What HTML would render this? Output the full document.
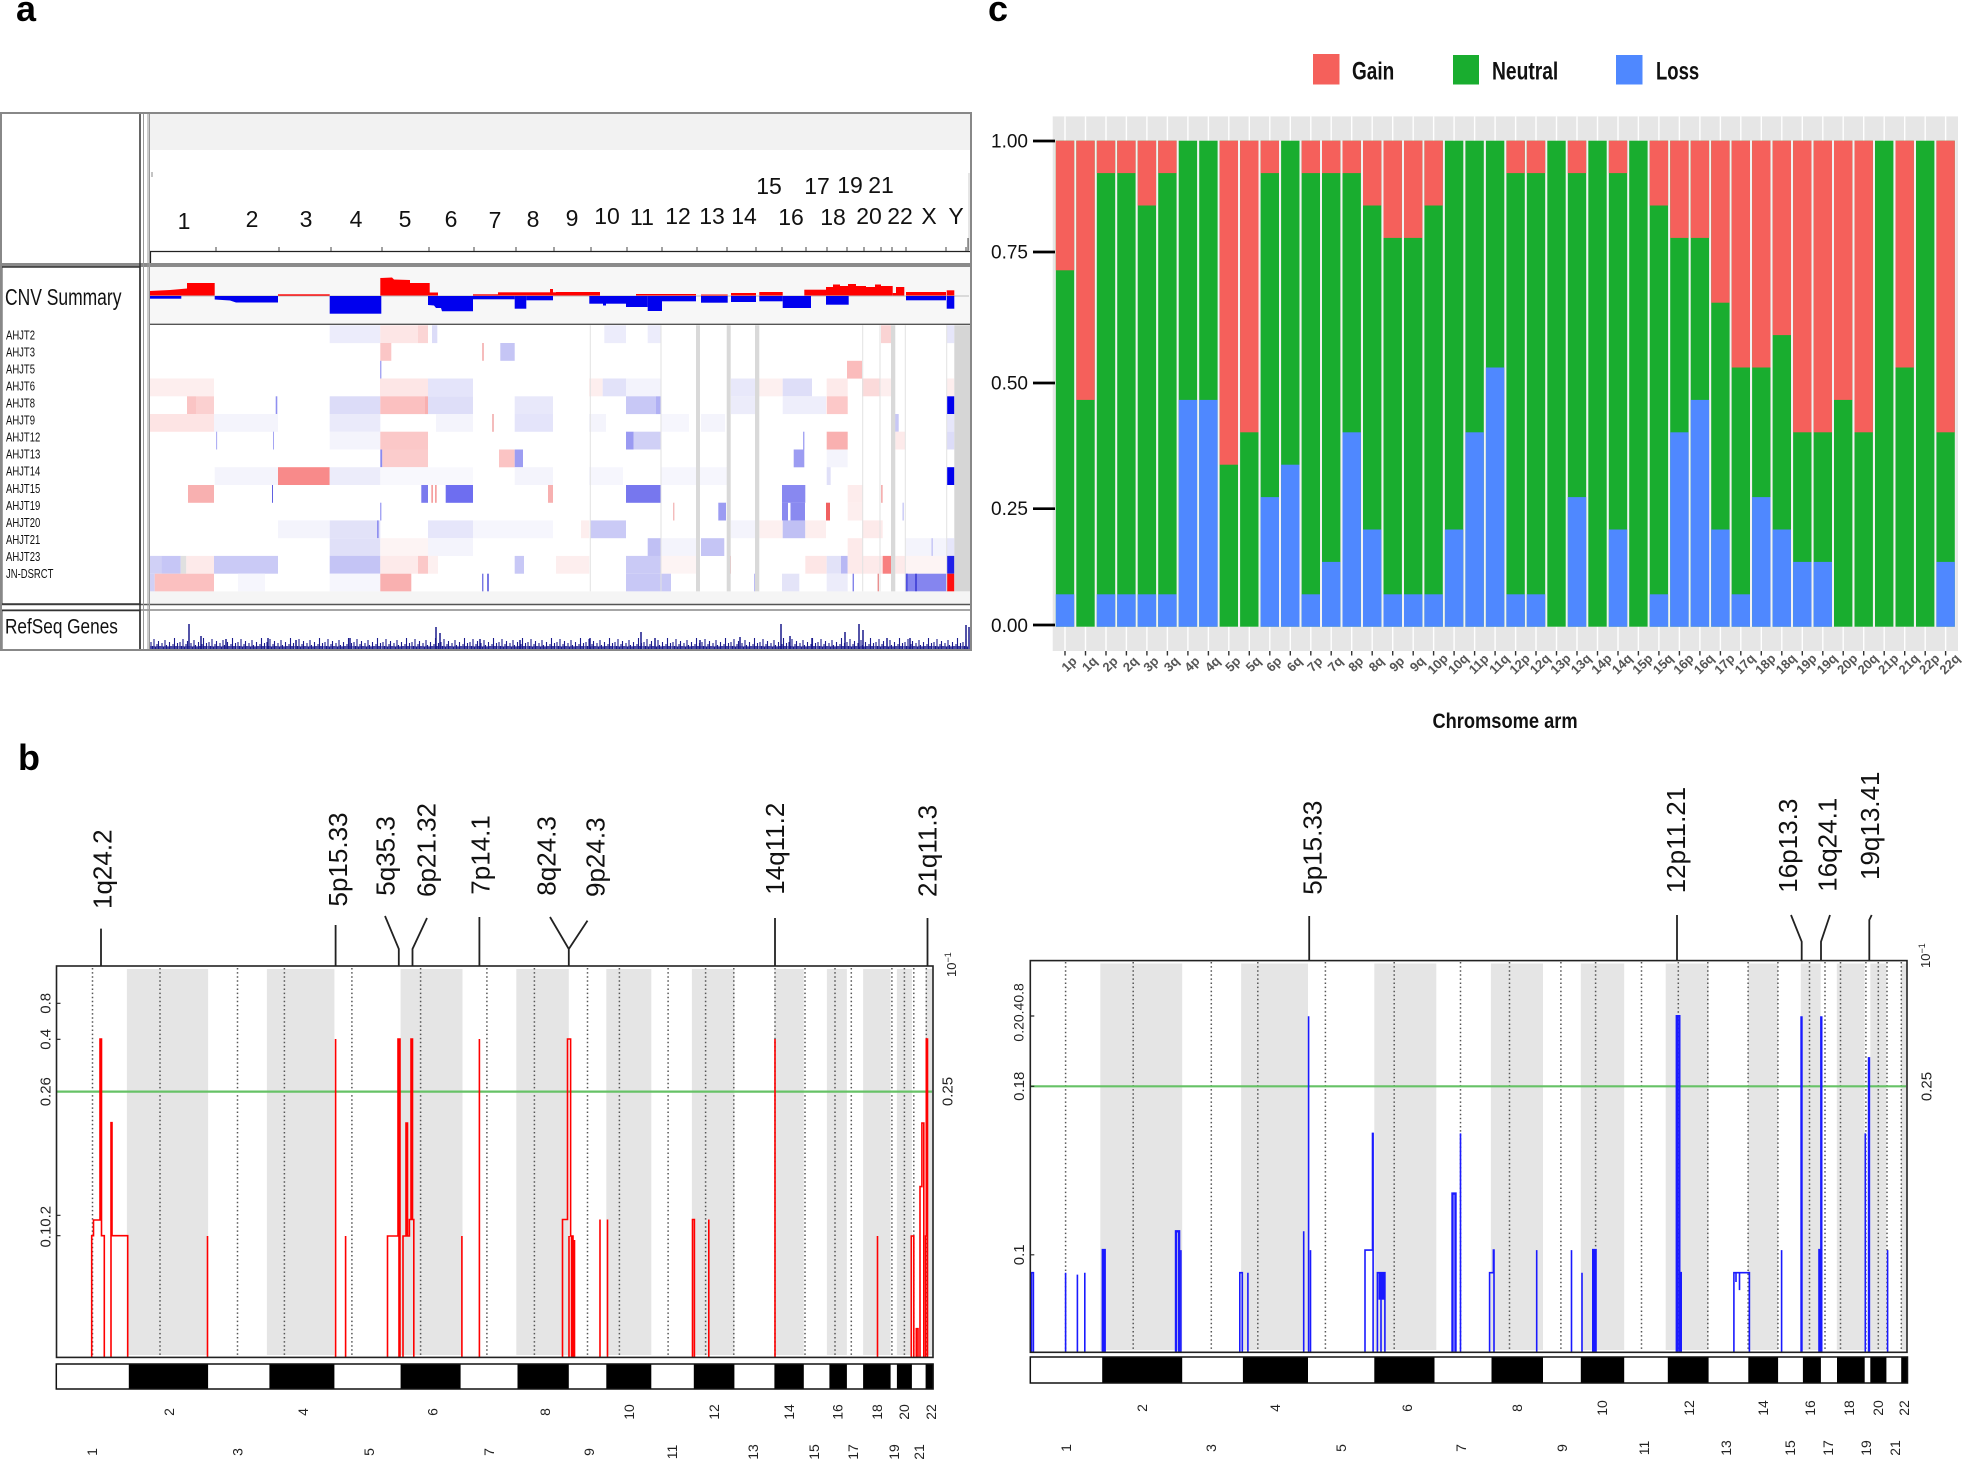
<!DOCTYPE html>
<html><head><meta charset="utf-8">
<style>
html,body{margin:0;padding:0;background:#fff;}
svg{display:block;font-family:"Liberation Sans",Arial,sans-serif;}
.g{fill:#F5605B}.n{fill:#19AD2F}.l{fill:#4F88FF}
</style></head><body>
<svg width="1962" height="1468" viewBox="0 0 1962 1468" xmlns="http://www.w3.org/2000/svg">
<defs>
<pattern id="rs" x="150" y="628" width="29" height="22" patternUnits="userSpaceOnUse">
<path d="M1 22V14M2.5 22V18M4 22V11M5.5 22V19M7 22V16M8.5 22V13M10 22V18M12 22V15M13.5 22V19M15 22V12M16.5 22V17M18 22V19M19.5 22V14M21 22V18M23 22V16M24.5 22V10M26 22V18M27.5 22V15" stroke="#1a1a8c" stroke-width="1.1"/>
</pattern>
</defs>
<rect width="1962" height="1468" fill="#fff"/>

<!-- Panel labels -->
<text x="16" y="21" font-size="36" font-weight="bold" fill="#000">a</text>
<text x="18" y="770" font-size="36" font-weight="bold" fill="#000">b</text>
<text x="988" y="21" font-size="36" font-weight="bold" fill="#000">c</text>

<!-- ================= PANEL A ================= -->
<rect x="1" y="113" width="970" height="537" fill="#fff"/>
<rect x="150" y="114" width="820" height="36" fill="#f2f2f2"/>
<path d="M152 172V177" stroke="#888" stroke-width="1"/>
<path d="M969 173V250" stroke="#ccc" stroke-width="1"/>
<g font-size="23" text-anchor="middle" fill="#111">
<text x="184" y="229">1</text><text x="252" y="227">2</text><text x="306" y="227">3</text><text x="356" y="227">4</text>
<text x="405" y="227">5</text><text x="451" y="227">6</text><text x="495" y="228">7</text><text x="533" y="227">8</text>
<text x="572" y="226">9</text><text x="607" y="224">10</text><text x="642" y="225">11</text><text x="678" y="224">12</text>
<text x="712" y="224">13</text><text x="744" y="224">14</text><text x="769" y="194">15</text><text x="791" y="225">16</text>
<text x="817" y="194">17</text><text x="833" y="225">18</text><text x="850" y="193">19</text><text x="869" y="224">20</text>
<text x="881" y="193">21</text><text x="900" y="224">22</text><text x="929" y="224">X</text><text x="956" y="224">Y</text>
</g>
<path d="M150 251.5H970" stroke="#222" stroke-width="1.2"/>
<path d="M150.5 251V263" stroke="#222" stroke-width="1.2"/>
<path d="M216 247V251M279 247V251M331 247V251M382 247V251M429 247V251M474 247V251M516 247V251M554 247V251M591 247V251M627 247V251M662 247V251M697 247V251M727 247V251M756 247V251M782 247V251M806 247V251M827 247V251M847 247V251M864 247V251M881 247V251M892 247V251M906 247V251M946 247V251M966 247V251M968 238V251" stroke="#444" stroke-width="1"/>
<rect x="1" y="263" width="970" height="4" fill="#8a8a8a"/>

<!-- CNV summary track -->
<rect x="150" y="267" width="821" height="57" fill="#f7f7f7"/>
<path d="M150 296H969" stroke="#aaa" stroke-width="0.8"/>
<g fill="#f00">
<polygon points="149.7,295.5 149.7,291 170,290 187,288.5 187,283 214.7,283 214.7,295.5"/>
<rect x="278" y="294.3" width="51.7" height="1.4"/>
<polygon points="380.3,295.5 380.3,278 392,277.5 394,279.5 410,280 410,283 429.7,283 429.7,292.5 438,292.5 438,295.5"/>
<rect x="473" y="294.3" width="25" height="1.3"/>
<rect x="498" y="292.3" width="58" height="3.2"/>
<rect x="550" y="289" width="3" height="6.5"/>
<rect x="556" y="292" width="44" height="3.5"/>
<rect x="636" y="294" width="60" height="1.5"/>
<rect x="701" y="294.5" width="26.7" height="1"/>
<rect x="731" y="293" width="25" height="2.5"/>
<rect x="759.3" y="292" width="23.4" height="3.5"/>
<rect x="804.3" y="289.7" width="21.7" height="5.8"/>
<polygon points="826,295.5 826,287 833,287 833,284.5 840,284.5 840,286 848,286 848,284 856,284 856,286 866,286 866,287 875,287 875,284.5 881,284.5 881,295.5"/>
<rect x="881" y="286" width="11.7" height="9.5"/>
<rect x="892.7" y="293" width="3.3" height="2.5"/>
<rect x="896" y="287" width="8.3" height="8.5"/>
<rect x="906" y="292" width="40" height="3.5"/>
<rect x="946.7" y="290.3" width="7.6" height="5.2"/>
</g>
<g fill="#0000ee">
<rect x="149.7" y="296" width="31.6" height="2.7"/>
<polygon points="214.7,296 214.7,299.5 230,300.5 236,302.5 278,302.5 278,296"/>
<rect x="329.7" y="296" width="51.6" height="17.7"/>
<polygon points="428,296 428,305 434,305.5 436,308 441,308 442,311.3 473,311.3 473,296"/>
<rect x="473" y="296" width="41.7" height="3.3"/>
<rect x="514.7" y="296" width="11.6" height="12.7"/>
<rect x="526.3" y="296" width="26.7" height="4.3"/>
<rect x="589.3" y="296" width="36.7" height="7.7"/>
<rect x="603" y="296" width="3" height="9.5"/>
<rect x="626" y="296" width="21.7" height="11"/>
<rect x="647.7" y="296" width="14.3" height="15"/>
<rect x="662" y="296" width="34" height="5.3"/>
<rect x="701" y="296" width="26.7" height="6.7"/>
<rect x="731" y="296" width="25" height="6"/>
<rect x="759.3" y="296" width="23.4" height="5.3"/>
<rect x="782.7" y="296" width="28.3" height="12"/>
<rect x="826" y="296" width="22.7" height="8.7"/>
<rect x="906" y="296" width="40" height="4.3"/>
<rect x="946.7" y="296" width="7.6" height="12.7"/>
</g>
<path d="M149 324.3H971" stroke="#555" stroke-width="1.3"/>

<!-- Heatmap rows -->
<g><g transform="translate(0,325.3)">
<rect x="329.7" width="50.6" height="17.8" fill="#ececfb"/><rect x="380.3" width="37.7" height="17.8" fill="#fde6e6"/><rect x="418" width="10" height="17.8" fill="#fbd5d5"/><rect x="432" width="5.3" height="17.8" fill="#dcdcf8"/><rect x="604.3" width="21.7" height="17.8" fill="#ececfb"/><rect x="647.7" width="13.3" height="17.8" fill="#ececfb"/><rect x="881" width="10" height="17.8" fill="#fad3d3"/><rect x="946.7" width="7.6" height="17.8" fill="#e6e6fa"/>
</g><g transform="translate(0,343)">
<rect x="380.3" width="11" height="17.8" fill="#fbc6c6"/><rect x="482.3" width="1.4" height="17.8" fill="#f3a0a0"/><rect x="500.3" width="14.4" height="17.8" fill="#c5c5f5"/>
</g><g transform="translate(0,360.8)">
<rect x="380.3" width="1" height="17.8" fill="#8080ee"/><rect x="847" width="15" height="17.8" fill="#fbbcbc"/>
</g><g transform="translate(0,378.5)">
<rect x="149.7" width="64.3" height="17.8" fill="#fdeeee"/><rect x="380" width="48" height="17.8" fill="#fde6e6"/><rect x="428" width="45" height="17.8" fill="#e4e4fa"/><rect x="589" width="13.7" height="17.8" fill="#fdeeee"/><rect x="602.7" width="23.3" height="17.8" fill="#e2e2f9"/><rect x="626" width="35" height="17.8" fill="#f3f3fc"/><rect x="731" width="24" height="17.8" fill="#e8e8fa"/><rect x="759" width="23.7" height="17.8" fill="#fdf0f0"/><rect x="782.7" width="29.3" height="17.8" fill="#dedef8"/><rect x="826.7" width="21" height="17.8" fill="#fdeaea"/><rect x="862" width="18" height="17.8" fill="#fbdada"/><rect x="880" width="11" height="17.8" fill="#fdeeee"/><rect x="946.7" width="7.6" height="17.8" fill="#fdeeee"/>
</g><g transform="translate(0,396.3)">
<rect x="187" width="9" height="17.8" fill="#fac4c4"/><rect x="196" width="18" height="17.8" fill="#fbd0d0"/><rect x="275.7" width="1.6" height="17.8" fill="#9090f0"/><rect x="329.7" width="50.6" height="17.8" fill="#dcdcf8"/><rect x="380.3" width="44.7" height="17.8" fill="#fbc0c0"/><rect x="425" width="3" height="17.8" fill="#f8b0b0"/><rect x="428" width="45" height="17.8" fill="#dedef8"/><rect x="514.7" width="38.3" height="17.8" fill="#e8e8fa"/><rect x="626" width="30" height="17.8" fill="#c8c8f6"/><rect x="656" width="5" height="17.8" fill="#b0b0f4"/><rect x="731" width="24" height="17.8" fill="#ececfa"/><rect x="782.7" width="43.3" height="17.8" fill="#eeeefb"/><rect x="826.7" width="21" height="17.8" fill="#fcc8c8"/><rect x="946.7" width="7.6" height="17.8" fill="#0000ee"/>
</g><g transform="translate(0,414)">
<rect x="149.7" width="64.3" height="17.8" fill="#fde4e4"/><rect x="214" width="64" height="17.8" fill="#f4f4fc"/><rect x="329.7" width="50.6" height="17.8" fill="#eaeafa"/><rect x="436" width="37" height="17.8" fill="#f4f4fc"/><rect x="492.3" width="1.4" height="17.8" fill="#f0a0a0"/><rect x="514.7" width="38.3" height="17.8" fill="#e4e4fa"/><rect x="589" width="17" height="17.8" fill="#f4f4fc"/><rect x="661" width="28" height="17.8" fill="#f6f6fd"/><rect x="701" width="24" height="17.8" fill="#f4f4fc"/><rect x="895" width="3.7" height="17.8" fill="#c8c8f6"/><rect x="946.7" width="7.6" height="17.8" fill="#e6e6fa"/>
</g><g transform="translate(0,431.7)">
<rect x="216.3" width="0.8" height="17.8" fill="#9090f0"/><rect x="273" width="0.8" height="17.8" fill="#9090f0"/><rect x="329.7" width="50.6" height="17.8" fill="#f4f4fc"/><rect x="380.3" width="47.7" height="17.8" fill="#fbc8c8"/><rect x="626" width="7.7" height="17.8" fill="#9a9af2"/><rect x="633.7" width="27.3" height="17.8" fill="#d0d0f6"/><rect x="803.3" width="1" height="17.8" fill="#8080ee"/><rect x="826.7" width="21" height="17.8" fill="#f9b0b0"/><rect x="895.3" width="10" height="17.8" fill="#fdeaea"/><rect x="946.7" width="7.6" height="17.8" fill="#dcdcf8"/>
</g><g transform="translate(0,449.5)">
<rect x="380.3" width="2" height="17.8" fill="#8a8af0"/><rect x="382.3" width="45.7" height="17.8" fill="#fbcccc"/><rect x="499" width="15.7" height="17.8" fill="#fbc4c4"/><rect x="514.7" width="8.3" height="17.8" fill="#9d9df2"/><rect x="793.7" width="10.6" height="17.8" fill="#9c9cf2"/><rect x="826.7" width="21" height="17.8" fill="#f4f4fc"/>
</g><g transform="translate(0,467.2)">
<rect x="214.7" width="63.3" height="17.8" fill="#f4f4fc"/><rect x="278" width="51.7" height="17.8" fill="#f88a8a"/><rect x="329.7" width="50.6" height="17.8" fill="#ececfa"/><rect x="380.3" width="92.7" height="17.8" fill="#f8f8fd"/><rect x="514.7" width="38.3" height="17.8" fill="#f4f4fc"/><rect x="589" width="34" height="17.8" fill="#f6f6fd"/><rect x="661" width="67" height="17.8" fill="#f6f6fd"/><rect x="826.7" width="4" height="17.8" fill="#e0e0f8"/><rect x="946.7" width="7.6" height="17.8" fill="#0000ee"/>
</g><g transform="translate(0,485)">
<rect x="188" width="26" height="17.8" fill="#f8b0b0"/><rect x="272" width="1" height="17.8" fill="#6060e0"/><rect x="421.3" width="6.7" height="17.8" fill="#7a7aee"/><rect x="431.3" width="1.7" height="17.8" fill="#f5a0a0"/><rect x="435" width="1.7" height="17.8" fill="#f5a0a0"/><rect x="445.7" width="27.3" height="17.8" fill="#6e6ef0"/><rect x="548" width="5" height="17.8" fill="#f7b0b0"/><rect x="626" width="35" height="17.8" fill="#7777ee"/><rect x="782" width="23.3" height="17.8" fill="#8888f0"/><rect x="847.7" width="15" height="17.8" fill="#fdecec"/><rect x="881" width="1.7" height="17.8" fill="#f5b0b0"/>
</g><g transform="translate(0,502.7)">
<rect x="380.3" width="1" height="17.8" fill="#8080ee"/><rect x="673.3" width="1" height="17.8" fill="#f0a0a0"/><rect x="718.3" width="7.7" height="17.8" fill="#9c9cf2"/><rect x="782" width="6" height="17.8" fill="#8a8af0"/><rect x="790.5" width="14.5" height="17.8" fill="#8a8af0"/><rect x="826" width="4" height="17.8" fill="#f06060"/><rect x="847.7" width="15" height="17.8" fill="#fdeeee"/><rect x="902.7" width="0.8" height="17.8" fill="#a0a0f0"/>
</g><g transform="translate(0,520.4)">
<rect x="278" width="51.7" height="17.8" fill="#f4f4fc"/><rect x="329.7" width="50.6" height="17.8" fill="#e2e2f8"/><rect x="377" width="1.7" height="17.8" fill="#9090f0"/><rect x="428" width="45" height="17.8" fill="#e6e6fa"/><rect x="473" width="80" height="17.8" fill="#f6f6fd"/><rect x="581" width="8.3" height="17.8" fill="#fdeeee"/><rect x="590.3" width="35.7" height="17.8" fill="#cacaf6"/><rect x="731" width="24" height="17.8" fill="#f4f4fc"/><rect x="759.3" width="23.4" height="17.8" fill="#fdf0f0"/><rect x="782.7" width="22.6" height="17.8" fill="#c0c0f4"/><rect x="805.3" width="20.7" height="17.8" fill="#fdeeee"/><rect x="862" width="20.7" height="17.8" fill="#fdeaea"/>
</g><g transform="translate(0,538.2)">
<rect x="329.7" width="50.6" height="17.8" fill="#e0e0f8"/><rect x="380.3" width="47.7" height="17.8" fill="#fdf4f4"/><rect x="428" width="45" height="17.8" fill="#f4f4fc"/><rect x="647.7" width="13.3" height="17.8" fill="#c0c0f4"/><rect x="661" width="35" height="17.8" fill="#f4f4fc"/><rect x="701" width="23.3" height="17.8" fill="#c5c5f5"/><rect x="847.7" width="15" height="17.8" fill="#fdeaea"/><rect x="905.3" width="41.4" height="17.8" fill="#f4f4fc"/><rect x="931.7" width="0.8" height="17.8" fill="#a0a0f0"/><rect x="946.7" width="7.6" height="17.8" fill="#e6e6fa"/>
</g><g transform="translate(0,555.9)">
<rect x="149.7" width="11.6" height="17.8" fill="#d0d0f6"/><rect x="161.3" width="19.4" height="17.8" fill="#c6c6f6"/><rect x="180.7" width="5.6" height="17.8" fill="#e0e0e0"/><rect x="186.3" width="27.7" height="17.8" fill="#fdeaea"/><rect x="214" width="64" height="17.8" fill="#cacaf6"/><rect x="329.7" width="50.6" height="17.8" fill="#c4c4f5"/><rect x="380.3" width="37.7" height="17.8" fill="#fdeaea"/><rect x="418" width="10" height="17.8" fill="#fbc8c8"/><rect x="428" width="10" height="17.8" fill="#fdf0f0"/><rect x="514.7" width="9.3" height="17.8" fill="#c8c8f6"/><rect x="556" width="33.3" height="17.8" fill="#fdeeee"/><rect x="626" width="35" height="17.8" fill="#cacaf6"/><rect x="661" width="35" height="17.8" fill="#fdf4f4"/><rect x="729.3" width="1.7" height="17.8" fill="#f5b0b0"/><rect x="805.3" width="21.4" height="17.8" fill="#fde6e6"/><rect x="826.7" width="14.3" height="17.8" fill="#e2e2f8"/><rect x="841" width="6.7" height="17.8" fill="#b8b8f4"/><rect x="847.7" width="35" height="17.8" fill="#fdeaea"/><rect x="882.7" width="8.3" height="17.8" fill="#f88080"/><rect x="895.3" width="10" height="17.8" fill="#fdeaea"/><rect x="905.3" width="41.4" height="17.8" fill="#fdf4f4"/><rect x="946.7" width="7.6" height="17.8" fill="#2020e8"/>
</g><g transform="translate(0,573.7)">
<rect x="149.7" width="5" height="17.7" fill="#d0d0f6"/><rect x="154.7" width="59.3" height="17.7" fill="#fbc0c0"/><rect x="238" width="27" height="17.7" fill="#f6f6fd"/><rect x="329.7" width="50.6" height="17.7" fill="#f6f6fd"/><rect x="380.3" width="31" height="17.7" fill="#f9b0b0"/><rect x="482.3" width="1" height="17.7" fill="#4040d8"/><rect x="487.3" width="1.4" height="17.7" fill="#4040d8"/><rect x="626" width="45" height="17.7" fill="#c8c8f6"/><rect x="754.3" width="1" height="17.7" fill="#a0a0f0"/><rect x="782" width="17.3" height="17.7" fill="#e4e4f8"/><rect x="826.7" width="21" height="17.7" fill="#ececfa"/><rect x="852.7" width="1" height="17.7" fill="#5050e0"/><rect x="877.7" width="1" height="17.7" fill="#e06060"/><rect x="905.3" width="41.4" height="17.7" fill="#8585ef"/><rect x="905.3" width="2.4" height="17.7" fill="#5050e0"/><rect x="915.3" width="1.4" height="17.7" fill="#3030d0"/><rect x="946.7" width="7.6" height="17.7" fill="#ff1010"/>
</g></g>
<g fill="#d9d9d9">
<rect x="696" y="325.3" width="4" height="266.1"/><rect x="726.7" y="325.3" width="4" height="266.1"/><rect x="755" y="325.3" width="4.3" height="266.1"/><rect x="891" y="325.3" width="4.3" height="266.1"/>
<rect x="954.3" y="325.3" width="16.7" height="266.1" fill="#d6d6d6"/>
</g>
<path d="M590.3 325.3V591.4M661 325.3V591.4M862.7 325.3V591.4M880 325.3V591.4M905.3 325.3V591.4M946.7 325.3V591.4" stroke="#e2e2e2" stroke-width="1"/>
<rect x="150" y="591.4" width="821" height="12.6" fill="#f5f5f5"/>

<!-- separator CNV / RefSeq -->
<rect x="1" y="604" width="970" height="6.5" fill="#fff"/>
<path d="M1 604.5H971" stroke="#555" stroke-width="1.5"/>
<path d="M1 610H971" stroke="#888" stroke-width="1.5"/>

<!-- RefSeq genes -->
<rect x="150" y="628" width="818" height="22" fill="url(#rs)"/>
<rect x="150" y="646" width="818" height="4" fill="#1a1a8c" opacity="0.55"/>
<path d="M189 650V624M201 650V636M226 650V639M268 650V638M296 650V640M350 650V638M436 650V627M440 650V633M480 650V639M520 650V640M590 650V638M641 650V632M655 650V638M700 650V640M740 650V637M781 650V624M790 650V636M812 650V638M845 650V632M859 650V624M863 650V630M887 650V638M910 650V638M966 650V625M969 650V627" stroke="#1a1a8c" stroke-width="1.5"/>

<!-- left column -->
<path d="M140 113V650" stroke="#333" stroke-width="1.5"/>
<path d="M143.5 113V650M148 113V650" stroke="#999" stroke-width="1"/>
<rect x="1.7" y="267" width="138.3" height="337" fill="none" stroke="#333" stroke-width="1.5"/>
<rect x="1.7" y="610.5" width="138.3" height="39.5" fill="none" stroke="#333" stroke-width="1.5"/>
<path d="M149.5 113V650" stroke="#999" stroke-width="1"/>
<text transform="translate(5,305) scale(0.76,1)" font-size="23" fill="#111">CNV Summary</text>
<g font-size="13" fill="#111">
<text transform="translate(6,339.4) scale(0.73,1)">AHJT2</text>
<text transform="translate(6,356.4) scale(0.73,1)">AHJT3</text>
<text transform="translate(6,373.5) scale(0.73,1)">AHJT5</text>
<text transform="translate(6,390.5) scale(0.73,1)">AHJT6</text>
<text transform="translate(6,407.6) scale(0.73,1)">AHJT8</text>
<text transform="translate(6,424.6) scale(0.73,1)">AHJT9</text>
<text transform="translate(6,441.6) scale(0.73,1)">AHJT12</text>
<text transform="translate(6,458.7) scale(0.73,1)">AHJT13</text>
<text transform="translate(6,475.7) scale(0.73,1)">AHJT14</text>
<text transform="translate(6,492.8) scale(0.73,1)">AHJT15</text>
<text transform="translate(6,509.8) scale(0.73,1)">AHJT19</text>
<text transform="translate(6,526.8) scale(0.73,1)">AHJT20</text>
<text transform="translate(6,543.9) scale(0.73,1)">AHJT21</text>
<text transform="translate(6,560.9) scale(0.73,1)">AHJT23</text>
<text transform="translate(6,578) scale(0.73,1)">JN-DSRCT</text>
</g>
<text transform="translate(5,633.5) scale(0.82,1)" font-size="21" fill="#111">RefSeq Genes</text>
<rect x="1" y="113" width="970" height="537" fill="none" stroke="#888" stroke-width="2"/>

<!-- ================= PANEL C ================= -->
<rect x="1313" y="54" width="26.5" height="30.5" class="g"/>
<text transform="translate(1352,79.5) scale(0.76,1)" font-size="25" font-weight="bold" fill="#111">Gain</text>
<rect x="1453" y="55" width="26" height="29.5" class="n"/>
<text transform="translate(1492,79.5) scale(0.77,1)" font-size="25" font-weight="bold" fill="#111">Neutral</text>
<rect x="1616" y="55" width="26.5" height="29.5" class="l"/>
<text transform="translate(1656,79.5) scale(0.74,1)" font-size="25" font-weight="bold" fill="#111">Loss</text>

<rect x="1052.7" y="116.4" width="905.3" height="534.6" fill="#e6e6e6"/>
<path d="M1065 116.4V651M1085.5 116.4V651M1106 116.4V651M1126.4 116.4V651M1146.9 116.4V651M1167.4 116.4V651M1187.9 116.4V651M1208.4 116.4V651M1228.8 116.4V651M1249.3 116.4V651M1269.8 116.4V651M1290.3 116.4V651M1310.8 116.4V651M1331.2 116.4V651M1351.7 116.4V651M1372.2 116.4V651M1392.7 116.4V651M1413.2 116.4V651M1433.6 116.4V651M1454.1 116.4V651M1474.6 116.4V651M1495.1 116.4V651M1515.6 116.4V651M1536 116.4V651M1556.5 116.4V651M1577 116.4V651M1597.5 116.4V651M1618 116.4V651M1638.4 116.4V651M1658.9 116.4V651M1679.4 116.4V651M1699.9 116.4V651M1720.4 116.4V651M1740.8 116.4V651M1761.3 116.4V651M1781.8 116.4V651M1802.3 116.4V651M1822.8 116.4V651M1843.2 116.4V651M1863.7 116.4V651M1884.2 116.4V651M1904.7 116.4V651M1925.2 116.4V651M1945.6 116.4V651" stroke="#fff" stroke-width="1.4"/>
<rect x="1055" y="140.7" width="900.5" height="486" fill="#f2f2f2"/>
<g>
<rect class="n" x="1055.8" y="140.7" width="18.4" height="486"/><rect class="g" x="1055.8" y="140.7" width="18.4" height="129.6"/><rect class="l" x="1055.8" y="594.3" width="18.4" height="32.4"/>
<rect class="n" x="1076.3" y="140.7" width="18.4" height="486"/><rect class="g" x="1076.3" y="140.7" width="18.4" height="259.2"/>
<rect class="n" x="1096.8" y="140.7" width="18.4" height="486"/><rect class="g" x="1096.8" y="140.7" width="18.4" height="32.4"/><rect class="l" x="1096.8" y="594.3" width="18.4" height="32.4"/>
<rect class="n" x="1117.2" y="140.7" width="18.4" height="486"/><rect class="g" x="1117.2" y="140.7" width="18.4" height="32.4"/><rect class="l" x="1117.2" y="594.3" width="18.4" height="32.4"/>
<rect class="n" x="1137.7" y="140.7" width="18.4" height="486"/><rect class="g" x="1137.7" y="140.7" width="18.4" height="64.8"/><rect class="l" x="1137.7" y="594.3" width="18.4" height="32.4"/>
<rect class="n" x="1158.2" y="140.7" width="18.4" height="486"/><rect class="g" x="1158.2" y="140.7" width="18.4" height="32.4"/><rect class="l" x="1158.2" y="594.3" width="18.4" height="32.4"/>
<rect class="n" x="1178.7" y="140.7" width="18.4" height="486"/><rect class="l" x="1178.7" y="399.9" width="18.4" height="226.8"/>
<rect class="n" x="1199.2" y="140.7" width="18.4" height="486"/><rect class="l" x="1199.2" y="399.9" width="18.4" height="226.8"/>
<rect class="n" x="1219.6" y="140.7" width="18.4" height="486"/><rect class="g" x="1219.6" y="140.7" width="18.4" height="324"/>
<rect class="n" x="1240.1" y="140.7" width="18.4" height="486"/><rect class="g" x="1240.1" y="140.7" width="18.4" height="291.6"/>
<rect class="n" x="1260.6" y="140.7" width="18.4" height="486"/><rect class="g" x="1260.6" y="140.7" width="18.4" height="32.4"/><rect class="l" x="1260.6" y="497.1" width="18.4" height="129.6"/>
<rect class="n" x="1281.1" y="140.7" width="18.4" height="486"/><rect class="l" x="1281.1" y="464.7" width="18.4" height="162"/>
<rect class="n" x="1301.6" y="140.7" width="18.4" height="486"/><rect class="g" x="1301.6" y="140.7" width="18.4" height="32.4"/><rect class="l" x="1301.6" y="594.3" width="18.4" height="32.4"/>
<rect class="n" x="1322" y="140.7" width="18.4" height="486"/><rect class="g" x="1322" y="140.7" width="18.4" height="32.4"/><rect class="l" x="1322" y="561.9" width="18.4" height="64.8"/>
<rect class="n" x="1342.5" y="140.7" width="18.4" height="486"/><rect class="g" x="1342.5" y="140.7" width="18.4" height="32.4"/><rect class="l" x="1342.5" y="432.3" width="18.4" height="194.4"/>
<rect class="n" x="1363" y="140.7" width="18.4" height="486"/><rect class="g" x="1363" y="140.7" width="18.4" height="64.8"/><rect class="l" x="1363" y="529.5" width="18.4" height="97.2"/>
<rect class="n" x="1383.5" y="140.7" width="18.4" height="486"/><rect class="g" x="1383.5" y="140.7" width="18.4" height="97.2"/><rect class="l" x="1383.5" y="594.3" width="18.4" height="32.4"/>
<rect class="n" x="1404" y="140.7" width="18.4" height="486"/><rect class="g" x="1404" y="140.7" width="18.4" height="97.2"/><rect class="l" x="1404" y="594.3" width="18.4" height="32.4"/>
<rect class="n" x="1424.4" y="140.7" width="18.4" height="486"/><rect class="g" x="1424.4" y="140.7" width="18.4" height="64.8"/><rect class="l" x="1424.4" y="594.3" width="18.4" height="32.4"/>
<rect class="n" x="1444.9" y="140.7" width="18.4" height="486"/><rect class="l" x="1444.9" y="529.5" width="18.4" height="97.2"/>
<rect class="n" x="1465.4" y="140.7" width="18.4" height="486"/><rect class="l" x="1465.4" y="432.3" width="18.4" height="194.4"/>
<rect class="n" x="1485.9" y="140.7" width="18.4" height="486"/><rect class="l" x="1485.9" y="367.5" width="18.4" height="259.2"/>
<rect class="n" x="1506.4" y="140.7" width="18.4" height="486"/><rect class="g" x="1506.4" y="140.7" width="18.4" height="32.4"/><rect class="l" x="1506.4" y="594.3" width="18.4" height="32.4"/>
<rect class="n" x="1526.8" y="140.7" width="18.4" height="486"/><rect class="g" x="1526.8" y="140.7" width="18.4" height="32.4"/><rect class="l" x="1526.8" y="594.3" width="18.4" height="32.4"/>
<rect class="n" x="1547.3" y="140.7" width="18.4" height="486"/>
<rect class="n" x="1567.8" y="140.7" width="18.4" height="486"/><rect class="g" x="1567.8" y="140.7" width="18.4" height="32.4"/><rect class="l" x="1567.8" y="497.1" width="18.4" height="129.6"/>
<rect class="n" x="1588.3" y="140.7" width="18.4" height="486"/>
<rect class="n" x="1608.8" y="140.7" width="18.4" height="486"/><rect class="g" x="1608.8" y="140.7" width="18.4" height="32.4"/><rect class="l" x="1608.8" y="529.5" width="18.4" height="97.2"/>
<rect class="n" x="1629.2" y="140.7" width="18.4" height="486"/>
<rect class="n" x="1649.7" y="140.7" width="18.4" height="486"/><rect class="g" x="1649.7" y="140.7" width="18.4" height="64.8"/><rect class="l" x="1649.7" y="594.3" width="18.4" height="32.4"/>
<rect class="n" x="1670.2" y="140.7" width="18.4" height="486"/><rect class="g" x="1670.2" y="140.7" width="18.4" height="97.2"/><rect class="l" x="1670.2" y="432.3" width="18.4" height="194.4"/>
<rect class="n" x="1690.7" y="140.7" width="18.4" height="486"/><rect class="g" x="1690.7" y="140.7" width="18.4" height="97.2"/><rect class="l" x="1690.7" y="399.9" width="18.4" height="226.8"/>
<rect class="n" x="1711.2" y="140.7" width="18.4" height="486"/><rect class="g" x="1711.2" y="140.7" width="18.4" height="162"/><rect class="l" x="1711.2" y="529.5" width="18.4" height="97.2"/>
<rect class="n" x="1731.6" y="140.7" width="18.4" height="486"/><rect class="g" x="1731.6" y="140.7" width="18.4" height="226.8"/><rect class="l" x="1731.6" y="594.3" width="18.4" height="32.4"/>
<rect class="n" x="1752.1" y="140.7" width="18.4" height="486"/><rect class="g" x="1752.1" y="140.7" width="18.4" height="226.8"/><rect class="l" x="1752.1" y="497.1" width="18.4" height="129.6"/>
<rect class="n" x="1772.6" y="140.7" width="18.4" height="486"/><rect class="g" x="1772.6" y="140.7" width="18.4" height="194.4"/><rect class="l" x="1772.6" y="529.5" width="18.4" height="97.2"/>
<rect class="n" x="1793.1" y="140.7" width="18.4" height="486"/><rect class="g" x="1793.1" y="140.7" width="18.4" height="291.6"/><rect class="l" x="1793.1" y="561.9" width="18.4" height="64.8"/>
<rect class="n" x="1813.6" y="140.7" width="18.4" height="486"/><rect class="g" x="1813.6" y="140.7" width="18.4" height="291.6"/><rect class="l" x="1813.6" y="561.9" width="18.4" height="64.8"/>
<rect class="n" x="1834" y="140.7" width="18.4" height="486"/><rect class="g" x="1834" y="140.7" width="18.4" height="259.2"/>
<rect class="n" x="1854.5" y="140.7" width="18.4" height="486"/><rect class="g" x="1854.5" y="140.7" width="18.4" height="291.6"/>
<rect class="n" x="1875" y="140.7" width="18.4" height="486"/>
<rect class="n" x="1895.5" y="140.7" width="18.4" height="486"/><rect class="g" x="1895.5" y="140.7" width="18.4" height="226.8"/>
<rect class="n" x="1916" y="140.7" width="18.4" height="486"/>
<rect class="n" x="1936.4" y="140.7" width="18.4" height="486"/><rect class="g" x="1936.4" y="140.7" width="18.4" height="291.6"/><rect class="l" x="1936.4" y="561.9" width="18.4" height="64.8"/>
</g>
<!-- y axis -->
<path d="M1033 141H1055M1033 252H1055M1033 383H1055M1033 508.7H1055M1033 625H1055" stroke="#000" stroke-width="2.7"/>
<g font-size="19" text-anchor="end" fill="#111">
<text x="1028" y="147.5">1.00</text>
<text x="1028" y="258.5">0.75</text>
<text x="1028" y="389.5">0.50</text>
<text x="1028" y="515">0.25</text>
<text x="1028" y="632">0.00</text>
</g>
<path d="M1065 651V655.5M1085.5 651V655.5M1106 651V655.5M1126.4 651V655.5M1146.9 651V655.5M1167.4 651V655.5M1187.9 651V655.5M1208.4 651V655.5M1228.8 651V655.5M1249.3 651V655.5M1269.8 651V655.5M1290.3 651V655.5M1310.8 651V655.5M1331.2 651V655.5M1351.7 651V655.5M1372.2 651V655.5M1392.7 651V655.5M1413.2 651V655.5M1433.6 651V655.5M1454.1 651V655.5M1474.6 651V655.5M1495.1 651V655.5M1515.6 651V655.5M1536 651V655.5M1556.5 651V655.5M1577 651V655.5M1597.5 651V655.5M1618 651V655.5M1638.4 651V655.5M1658.9 651V655.5M1679.4 651V655.5M1699.9 651V655.5M1720.4 651V655.5M1740.8 651V655.5M1761.3 651V655.5M1781.8 651V655.5M1802.3 651V655.5M1822.8 651V655.5M1843.2 651V655.5M1863.7 651V655.5M1884.2 651V655.5M1904.7 651V655.5M1925.2 651V655.5M1945.6 651V655.5" stroke="#333" stroke-width="1.4"/>
<g font-size="13" font-weight="bold" fill="#555" text-anchor="middle">
<text transform="translate(1069,664) rotate(-45)" dy="0.35em">1p</text>
<text transform="translate(1089.5,664) rotate(-45)" dy="0.35em">1q</text>
<text transform="translate(1110,664) rotate(-45)" dy="0.35em">2p</text>
<text transform="translate(1130.4,664) rotate(-45)" dy="0.35em">2q</text>
<text transform="translate(1150.9,664) rotate(-45)" dy="0.35em">3p</text>
<text transform="translate(1171.4,664) rotate(-45)" dy="0.35em">3q</text>
<text transform="translate(1191.9,664) rotate(-45)" dy="0.35em">4p</text>
<text transform="translate(1212.4,664) rotate(-45)" dy="0.35em">4q</text>
<text transform="translate(1232.8,664) rotate(-45)" dy="0.35em">5p</text>
<text transform="translate(1253.3,664) rotate(-45)" dy="0.35em">5q</text>
<text transform="translate(1273.8,664) rotate(-45)" dy="0.35em">6p</text>
<text transform="translate(1294.3,664) rotate(-45)" dy="0.35em">6q</text>
<text transform="translate(1314.8,664) rotate(-45)" dy="0.35em">7p</text>
<text transform="translate(1335.2,664) rotate(-45)" dy="0.35em">7q</text>
<text transform="translate(1355.7,664) rotate(-45)" dy="0.35em">8p</text>
<text transform="translate(1376.2,664) rotate(-45)" dy="0.35em">8q</text>
<text transform="translate(1396.7,664) rotate(-45)" dy="0.35em">9p</text>
<text transform="translate(1417.2,664) rotate(-45)" dy="0.35em">9q</text>
<text transform="translate(1437.6,664) rotate(-45)" dy="0.35em">10p</text>
<text transform="translate(1458.1,664) rotate(-45)" dy="0.35em">10q</text>
<text transform="translate(1478.6,664) rotate(-45)" dy="0.35em">11p</text>
<text transform="translate(1499.1,664) rotate(-45)" dy="0.35em">11q</text>
<text transform="translate(1519.6,664) rotate(-45)" dy="0.35em">12p</text>
<text transform="translate(1540,664) rotate(-45)" dy="0.35em">12q</text>
<text transform="translate(1560.5,664) rotate(-45)" dy="0.35em">13p</text>
<text transform="translate(1581,664) rotate(-45)" dy="0.35em">13q</text>
<text transform="translate(1601.5,664) rotate(-45)" dy="0.35em">14p</text>
<text transform="translate(1622,664) rotate(-45)" dy="0.35em">14q</text>
<text transform="translate(1642.4,664) rotate(-45)" dy="0.35em">15p</text>
<text transform="translate(1662.9,664) rotate(-45)" dy="0.35em">15q</text>
<text transform="translate(1683.4,664) rotate(-45)" dy="0.35em">16p</text>
<text transform="translate(1703.9,664) rotate(-45)" dy="0.35em">16q</text>
<text transform="translate(1724.4,664) rotate(-45)" dy="0.35em">17p</text>
<text transform="translate(1744.8,664) rotate(-45)" dy="0.35em">17q</text>
<text transform="translate(1765.3,664) rotate(-45)" dy="0.35em">18p</text>
<text transform="translate(1785.8,664) rotate(-45)" dy="0.35em">18q</text>
<text transform="translate(1806.3,664) rotate(-45)" dy="0.35em">19p</text>
<text transform="translate(1826.8,664) rotate(-45)" dy="0.35em">19q</text>
<text transform="translate(1847.2,664) rotate(-45)" dy="0.35em">20p</text>
<text transform="translate(1867.7,664) rotate(-45)" dy="0.35em">20q</text>
<text transform="translate(1888.2,664) rotate(-45)" dy="0.35em">21p</text>
<text transform="translate(1908.7,664) rotate(-45)" dy="0.35em">21q</text>
<text transform="translate(1929.2,664) rotate(-45)" dy="0.35em">22p</text>
<text transform="translate(1949.6,664) rotate(-45)" dy="0.35em">22q</text>
</g>
<text transform="translate(1505,728) scale(0.87,1)" text-anchor="middle" font-size="21" font-weight="bold" fill="#111">Chromsome arm</text>

<!-- ================= PANEL B LEFT ================= -->
<g fill="#e5e5e5">
<rect x="126.9" y="969" width="81.2" height="386"/><rect x="266.9" y="969" width="67.5" height="386"/><rect x="400.6" y="969" width="61.9" height="386"/><rect x="516.3" y="969" width="52.5" height="386"/><rect x="606.3" y="969" width="45" height="386"/><rect x="691.9" y="969" width="42.5" height="386"/><rect x="774.4" y="969" width="29.4" height="386"/><rect x="826.9" y="969" width="20" height="386"/><rect x="863.1" y="969" width="27.5" height="386"/><rect x="896.9" y="969" width="15" height="386"/><rect x="925.6" y="969" width="6.9" height="386"/>
</g>
<path d="M92.5 968V1356M160 968V1356M237.5 968V1356M284.4 968V1356M351.9 968V1356M420.6 968V1356M486.9 968V1356M534.4 968V1356M587.5 968V1356M619.4 968V1356M668.1 968V1356M705.6 968V1356M733.8 968V1356M775 968V1356M805 968V1356M835 968V1356M851.3 968V1356M891.9 968V1356M904.4 968V1356M913.8 968V1356M926.3 968V1356" stroke="#555" stroke-width="1.5" stroke-dasharray="1.5 2.6"/>
<path d="M57 1091.6H932" stroke="#66c266" stroke-width="2.2"/>
<path d="M91.7 1357V1235.7H93.5V1220H100V1039H101.5V1235.7H104.3V1357M111 1357V1122.7H112V1235.7H127.7V1357M207.5 1357V1236M335.6 1357V1039M345.6 1357V1236M387.5 1357V1236H398V1039H400V1357M399 1357V1039M403 1357V1236H406V1123H407.5V1236H409.4V1219.5H411V1039H412.5V1219.5H413.8V1357M461.9 1357V1236M479.4 1357V1039M562.5 1357V1219.5H567.5V1039H570.6V1236H573V1357M569 1357V1236M571.5 1357V1236M574.5 1357V1240M600 1357V1219.5M607.5 1357V1219.5M692.5 1357V1219.5H694.4V1357M708.8 1357V1219.5M775 1357V1039M877.5 1357V1236M911.3 1357V1236H913.8V1357M916.3 1357V1328.7H918V1357M920 1357V1186.6H921.9V1123H923.8V1357M925.6 1357V1236H926.3V1039H927.5V1357" fill="none" stroke="#ff0000" stroke-width="1.6"/>
<rect x="56.5" y="966" width="876.5" height="391.4" fill="none" stroke="#222" stroke-width="1.6"/>
<path d="M56.5 1003.3h4M56.5 1039.3h4M56.5 1215.3h4M56.5 1235.7h4" stroke="#222" stroke-width="1.2"/>
<!-- ideogram left -->
<rect x="56.3" y="1364" width="876.8" height="25" fill="#fff"/>
<g fill="#000">
<rect x="128.8" y="1364" width="79.3" height="25"/><rect x="269.4" y="1364" width="65" height="25"/><rect x="400.6" y="1364" width="60" height="25"/><rect x="517.5" y="1364" width="51.3" height="25"/><rect x="606.3" y="1364" width="45" height="25"/><rect x="693.8" y="1364" width="40.6" height="25"/><rect x="774.4" y="1364" width="29.4" height="25"/><rect x="829.4" y="1364" width="17.5" height="25"/><rect x="863.1" y="1364" width="27.5" height="25"/><rect x="896.9" y="1364" width="15" height="25"/><rect x="925.6" y="1364" width="7.5" height="25"/>
</g>
<rect x="56.3" y="1364" width="876.8" height="25" fill="none" stroke="#111" stroke-width="1.5"/>
<!-- axis labels left -->
<g font-size="15" fill="#222" text-anchor="middle">
<text transform="translate(45,1003.3) rotate(-90)" dy="0.35em">0.8</text>
<text transform="translate(45,1039.3) rotate(-90)" dy="0.35em">0.4</text>
<text transform="translate(45,1091.7) rotate(-90)" dy="0.35em">0.26</text>
<text transform="translate(45,1226.7) rotate(-90)" dy="0.35em">0.10.2</text>
<text transform="translate(947,1091.5) rotate(-90)" dy="0.35em">0.25</text>
</g>
<text transform="translate(956,977) rotate(-90)" font-size="13" fill="#222">10<tspan font-size="9" dy="-5">−1</tspan></text>
<!-- annotations left -->
<path d="M101 928.6V966M335.6 925V966M385 916L398.8 948.9V966M427 918L412.5 949V966M479.4 917V966M550 917L568.8 949V966M587.5 920.6L568.8 949M775 918V966M927.5 918V966" fill="none" stroke="#222" stroke-width="1.8"/>
<g font-size="26" fill="#111">
<text transform="translate(111.3,909) rotate(-90)">1q24.2</text>
<text transform="translate(347,906.5) rotate(-90)">5p15.33</text>
<text transform="translate(394.4,895.7) rotate(-90)">5q35.3</text>
<text transform="translate(435.6,897) rotate(-90)">6p21.32</text>
<text transform="translate(489.4,894.7) rotate(-90)">7p14.1</text>
<text transform="translate(555.6,895.7) rotate(-90)">8q24.3</text>
<text transform="translate(604.4,897) rotate(-90)">9p24.3</text>
<text transform="translate(783.8,894.7) rotate(-90)">14q11.2</text>
<text transform="translate(936.3,897) rotate(-90)">21q11.3</text>
</g>
<g font-size="14" fill="#222" text-anchor="middle">
<text transform="translate(169,1412) rotate(-90)" dy="0.35em">2</text>
<text transform="translate(303,1412) rotate(-90)" dy="0.35em">4</text>
<text transform="translate(432.5,1412) rotate(-90)" dy="0.35em">6</text>
<text transform="translate(545,1412) rotate(-90)" dy="0.35em">8</text>
<text transform="translate(629,1412) rotate(-90)" dy="0.35em">10</text>
<text transform="translate(714,1412) rotate(-90)" dy="0.35em">12</text>
<text transform="translate(789,1412) rotate(-90)" dy="0.35em">14</text>
<text transform="translate(837.5,1412) rotate(-90)" dy="0.35em">16</text>
<text transform="translate(877,1412) rotate(-90)" dy="0.35em">18</text>
<text transform="translate(904,1412) rotate(-90)" dy="0.35em">20</text>
<text transform="translate(931,1412) rotate(-90)" dy="0.35em">22</text>
<text transform="translate(92,1452) rotate(-90)" dy="0.35em">1</text>
<text transform="translate(237.5,1452) rotate(-90)" dy="0.35em">3</text>
<text transform="translate(369,1452) rotate(-90)" dy="0.35em">5</text>
<text transform="translate(489,1452) rotate(-90)" dy="0.35em">7</text>
<text transform="translate(589,1452) rotate(-90)" dy="0.35em">9</text>
<text transform="translate(672,1452) rotate(-90)" dy="0.35em">11</text>
<text transform="translate(753,1452) rotate(-90)" dy="0.35em">13</text>
<text transform="translate(814,1452) rotate(-90)" dy="0.35em">15</text>
<text transform="translate(853,1452) rotate(-90)" dy="0.35em">17</text>
<text transform="translate(894,1452) rotate(-90)" dy="0.35em">19</text>
<text transform="translate(919,1452) rotate(-90)" dy="0.35em">21</text>
</g>

<!-- ================= PANEL B RIGHT ================= -->
<g fill="#e5e5e5">
<rect x="1100.3" y="963.5" width="81.9" height="386.5"/><rect x="1241.1" y="963.5" width="66.9" height="386.5"/><rect x="1374.3" y="963.5" width="62" height="386.5"/><rect x="1490.9" y="963.5" width="52.1" height="386.5"/><rect x="1580.8" y="963.5" width="43.4" height="386.5"/><rect x="1665.7" y="963.5" width="42.8" height="386.5"/><rect x="1748.1" y="963.5" width="29.8" height="386.5"/><rect x="1800.8" y="963.5" width="19.9" height="386.5"/><rect x="1836.8" y="963.5" width="27.9" height="386.5"/><rect x="1870.3" y="963.5" width="16.1" height="386.5"/><rect x="1901.3" y="963.5" width="6.2" height="386.5"/>
</g>
<path d="M1065.6 962V1351M1133.2 962V1351M1211.3 962V1351M1257.8 962V1351M1325.4 962V1351M1394.2 962V1351M1460.5 962V1351M1509.5 962V1351M1560.9 962V1351M1595.6 962V1351M1641.5 962V1351M1678.3 962V1351M1707.8 962V1351M1748.1 962V1351M1777.9 962V1351M1809.5 962V1351M1825 962V1351M1840.5 962V1351M1865.9 962V1351M1878.3 962V1351M1887 962V1351M1901.3 962V1351" stroke="#555" stroke-width="1.5" stroke-dasharray="1.5 2.6"/>
<path d="M1031 1086.3H1906" stroke="#66c266" stroke-width="2.2"/>
<g fill="none" stroke="#1a1aff" stroke-width="1.6">
<path d="M1031.5 1352V1272.7H1033.4V1352M1065.6 1352V1272.7M1077.4 1352V1274.6M1084.8 1352V1272.7M1180.9 1352V1250.1M1239.8 1352V1272.7H1242.3V1352M1247.9 1352V1272.7M1303.7 1352V1231.3M1308.6 1352V1016.2M1310.5 1352V1250.1M1365 1352V1250.1H1372.5V1133.4H1373.1V1352M1377.4 1352V1272.7H1384.9V1352M1381 1352V1290M1460.5 1352V1133.4M1489.6 1352V1272.7H1493.4V1250.1H1494V1352M1536.7 1352V1250.1M1571.5 1352V1250.1M1582 1352V1272.7M1679.3 1352V1272.7H1681.2V1352M1733.9 1352V1272.7H1749.4V1352M1739.5 1272.7V1290.1M1736 1272.7V1282M1781.6 1352V1250.1M1865.3 1352V1133.4M1887.6 1352V1250.1"/>
<path d="M1102.8 1352V1250.1H1104.7V1352M1176 1352V1231.3H1179.1V1352M1452.5 1352V1193.6H1455.5V1352M1593.2 1352V1250.1H1595.6V1352M1676.8 1352V1016.2H1679.3V1352M1801.5 1352V1016.2M1819.4 1352V1250.1H1821.3V1016.2V1352M1869 1352V1057.1" stroke-width="2.4"/>
</g>
<rect x="1378.5" y="1272.7" width="6" height="27" fill="#1a1aff"/>
<rect x="1030.3" y="960.6" width="876.7" height="391.7" fill="none" stroke="#222" stroke-width="1.6"/>
<path d="M1030.3 1016h4M1030.3 1086.3h4M1030.3 1254.8h4" stroke="#222" stroke-width="1.2"/>
<!-- ideogram right -->
<rect x="1030.3" y="1357" width="877.2" height="26" fill="#fff"/>
<g fill="#000">
<rect x="1102.2" y="1357" width="80" height="26"/><rect x="1242.9" y="1357" width="65.1" height="26"/><rect x="1374.3" y="1357" width="60.2" height="26"/><rect x="1491.5" y="1357" width="51.5" height="26"/><rect x="1580.8" y="1357" width="43.4" height="26"/><rect x="1667.8" y="1357" width="40.8" height="26"/><rect x="1748.3" y="1357" width="29.8" height="26"/><rect x="1802.9" y="1357" width="18" height="26"/><rect x="1837" y="1357" width="27.7" height="26"/><rect x="1870.3" y="1357" width="16.1" height="26"/><rect x="1901.2" y="1357" width="6.3" height="26"/>
</g>
<rect x="1030.3" y="1357" width="877.2" height="26" fill="none" stroke="#111" stroke-width="1.5"/>
<g font-size="15" fill="#222" text-anchor="middle">
<text transform="translate(1018.5,1012.4) rotate(-90)" dy="0.35em" font-size="14">0.20.40.8</text>
<text transform="translate(1018.5,1086.3) rotate(-90)" dy="0.35em">0.18</text>
<text transform="translate(1018.5,1254.8) rotate(-90)" dy="0.35em">0.1</text>
<text transform="translate(1926,1086.5) rotate(-90)" dy="0.35em">0.25</text>
</g>
<text transform="translate(1930,968) rotate(-90)" font-size="13" fill="#222">10<tspan font-size="9" dy="-5">−1</tspan></text>
<path d="M1309.2 916V960.6M1677 915V961M1791 915L1801.7 941.7V961M1830 915L1821 941.7V961M1871.7 915L1869.3 920V961" fill="none" stroke="#222" stroke-width="1.8"/>
<g font-size="26" fill="#111">
<text transform="translate(1321.6,894.7) rotate(-90)">5p15.33</text>
<text transform="translate(1685,893.3) rotate(-90)">12p11.21</text>
<text transform="translate(1797,892.7) rotate(-90)">16p13.3</text>
<text transform="translate(1836.5,891.7) rotate(-90)">16q24.1</text>
<text transform="translate(1879,880) rotate(-90)">19q13.41</text>
</g>
<g font-size="14" fill="#222" text-anchor="middle">
<text transform="translate(1142,1408) rotate(-90)" dy="0.35em">2</text>
<text transform="translate(1275,1408) rotate(-90)" dy="0.35em">4</text>
<text transform="translate(1407,1408) rotate(-90)" dy="0.35em">6</text>
<text transform="translate(1517,1408) rotate(-90)" dy="0.35em">8</text>
<text transform="translate(1602,1408) rotate(-90)" dy="0.35em">10</text>
<text transform="translate(1689,1408) rotate(-90)" dy="0.35em">12</text>
<text transform="translate(1763,1408) rotate(-90)" dy="0.35em">14</text>
<text transform="translate(1810,1408) rotate(-90)" dy="0.35em">16</text>
<text transform="translate(1849,1408) rotate(-90)" dy="0.35em">18</text>
<text transform="translate(1878,1408) rotate(-90)" dy="0.35em">20</text>
<text transform="translate(1904,1408) rotate(-90)" dy="0.35em">22</text>
<text transform="translate(1066,1448) rotate(-90)" dy="0.35em">1</text>
<text transform="translate(1211,1448) rotate(-90)" dy="0.35em">3</text>
<text transform="translate(1341,1448) rotate(-90)" dy="0.35em">5</text>
<text transform="translate(1461,1448) rotate(-90)" dy="0.35em">7</text>
<text transform="translate(1562,1448) rotate(-90)" dy="0.35em">9</text>
<text transform="translate(1644,1448) rotate(-90)" dy="0.35em">11</text>
<text transform="translate(1726,1448) rotate(-90)" dy="0.35em">13</text>
<text transform="translate(1790,1448) rotate(-90)" dy="0.35em">15</text>
<text transform="translate(1828,1448) rotate(-90)" dy="0.35em">17</text>
<text transform="translate(1866,1448) rotate(-90)" dy="0.35em">19</text>
<text transform="translate(1895,1448) rotate(-90)" dy="0.35em">21</text>
</g>
</svg>
</body></html>
